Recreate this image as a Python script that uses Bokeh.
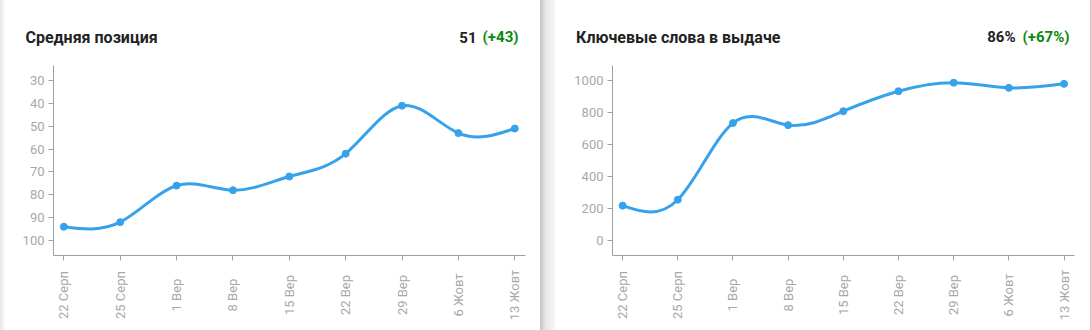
import math
from bokeh.plotting import figure
from bokeh.models import (Range1d, FixedTicker, Label, LabelSet, ColumnDataSource, Div, LinearAxis)
from bokeh.core.properties import value
from bokeh.layouts import row
from bokeh.embed import file_html
from bokeh.resources import INLINE

# ---------------- data ----------------
dates = ["22 Серп", "25 Серп", "1 Вер", "8 Вер", "15 Вер", "22 Вер", "29 Вер", "6 Жовт", "13 Жовт"]
avg_position = [94, 92, 76, 78, 72, 62, 41, 53, 51]
keywords = [218, 255, 734, 721, 808, 933, 986, 954, 979]
pos_ticks = [30, 40, 50, 60, 70, 80, 90, 100]
kw_ticks = [0, 200, 400, 600, 800, 1000]
title_left = "Средняя позиция"
title_right = "Ключевые слова в выдаче"
kw_value = "86%"
kw_delta = "(+67%)"

FONT = "Roboto"
BLUE = "#36a2eb"
GRAY_TXT = "#a8a8a8"
GRAY_AX = "#a0a0a0"
GREEN = "#0a8a0a"
W, H = 535, 330


def natural_spline_segments(ys):
    """Natural cubic spline through evenly spaced points, as bezier segments."""
    n = len(ys)
    rhs = [6 * (ys[i + 1] - 2 * ys[i] + ys[i - 1]) for i in range(1, n - 1)]
    m = len(rhs)
    cp, dp = [0.0] * m, [0.0] * m
    for i in range(m):
        denom = 4 - (cp[i - 1] if i > 0 else 0)
        cp[i] = 1 / denom
        dp[i] = (rhs[i] - (dp[i - 1] if i > 0 else 0)) / denom
    M = [0.0] * m
    for i in range(m - 1, -1, -1):
        M[i] = dp[i] - (cp[i] * M[i + 1] if i < m - 1 else 0)
    M = [0.0] + M + [0.0]
    seg = dict(x0=[], y0=[], x1=[], y1=[], cx0=[], cy0=[], cx1=[], cy1=[])
    for i in range(n - 1):
        d = ys[i + 1] - ys[i]
        s0 = d - (2 * M[i] + M[i + 1]) / 6
        s1 = d + (M[i] + 2 * M[i + 1]) / 6
        seg["x0"].append(i); seg["y0"].append(ys[i])
        seg["x1"].append(i + 1); seg["y1"].append(ys[i + 1])
        seg["cx0"].append(i + 1 / 3); seg["cy0"].append(ys[i] + s0 / 3)
        seg["cx1"].append(i + 2 / 3); seg["cy1"].append(ys[i + 1] - s1 / 3)
    return seg


def make_card(values, y_lo_hi, inverted, box, title, val_txt, delta_txt, ticks,
              title_x, val_right, delta_right):
    # box = inner plot area in figure pixels: left, right, top, bottom
    L, R, T, B = box
    n = len(values)
    xi0, xi1 = -0.183, n - 1 + 0.19
    sx = (R - L) / (xi1 - xi0)
    x_range = Range1d(xi0 - L / sx, xi1 + (W - R) / sx)
    ylo, yhi = y_lo_hi
    sy = (B - T) / (yhi - ylo)
    if inverted:   # ylo at top, yhi at bottom
        y_bottom_val = yhi + (H - B) / sy
        y_top_val = ylo - T / sy
        axis_y = yhi
    else:
        y_bottom_val = ylo - (H - B) / sy
        y_top_val = yhi + T / sy
        axis_y = ylo
    y_range = Range1d(y_bottom_val, y_top_val)

    p = figure(width=W, height=H, output_backend="svg", toolbar_location=None,
               x_range=x_range, y_range=y_range, x_axis_location=None, y_axis_location=None,
               min_border=0, background_fill_color="white", border_fill_color="white",
               outline_line_color=None)
    p.grid.visible = False

    yax = LinearAxis(fixed_location=xi0, bounds=(ylo, yhi), ticker=FixedTicker(ticks=ticks))
    idx = list(range(n))
    xax = LinearAxis(fixed_location=axis_y, bounds=(xi0, xi1), ticker=FixedTicker(ticks=idx),
                     major_label_overrides={i: "" for i in idx})
    for ax in (xax, yax):
        ax.axis_line_color = GRAY_AX
        ax.major_tick_line_color = GRAY_AX
        ax.minor_tick_line_color = None
        ax.major_tick_out = 5
        ax.major_tick_in = 0
        ax.major_label_text_font = FONT
        ax.major_label_text_font_size = "13px"
        ax.major_label_text_color = GRAY_TXT
    yax.major_label_standoff = 4
    p.add_layout(yax, "left")
    p.add_layout(xax, "below")

    seg = natural_spline_segments(values)
    p.bezier(x0="x0", y0="y0", x1="x1", y1="y1", cx0="cx0", cy0="cy0", cx1="cx1", cy1="cy1",
             source=ColumnDataSource(seg), line_color=BLUE, line_width=3)
    p.scatter(idx, values, size=7, fill_color=BLUE, line_color=BLUE)

    src = ColumnDataSource(dict(x=idx, y=[H - 294.5] * n, t=dates))
    p.add_layout(LabelSet(x="x", y="y", text="t", source=src, y_units="screen", angle=math.pi / 2,
                          text_align="center", text_baseline="middle", text_font=value(FONT),
                          text_font_size=value("13px"), text_color=GRAY_TXT))

    base_y = H - 36.5
    for txt, x, align, color, size in ((title, title_x, "left", "#222222", "16px"),
                                       (val_txt, val_right, "right", "#222222", "15px"),
                                       (delta_txt, delta_right, "right", GREEN, "15px")):
        p.add_layout(Label(x=x, y=base_y, x_units="screen", y_units="screen", text=txt,
                           text_font=FONT, text_font_size=size, text_font_style="bold",
                           text_color=color, text_align=align, text_baseline="alphabetic"))
    return p


last_pos = avg_position[-1]
delta_pos = avg_position[0] - avg_position[-1]

p1 = make_card(avg_position, (23.4, 106.6), True, (48, 520, 65, 255), title_left,
               str(last_pos), "(+%d)" % delta_pos, pos_ticks, 20, 471, 513)
p2 = make_card(keywords, (-93.6, 1093.6), False, (57, 519, 65, 255), title_right,
               kw_value, kw_delta, kw_ticks, 20.6, 460, 514)


def strip(w, bg):
    return Div(text="", width=w, height=H, margin=(0, 0, 0, 0),
               styles={"background": bg, "width": "%dpx" % w, "height": "%dpx" % H})


layout = row(strip(5, "linear-gradient(to right, #e6e6e6, #fbfbfb)"), p1,
             strip(15, "linear-gradient(to right, #c4c4c4, #e8e8e8 40%, #f6f6f6)"), p2,
             strip(1, "#cccccc"), spacing=0)

open("out.html", "w").write(file_html(layout, INLINE))
